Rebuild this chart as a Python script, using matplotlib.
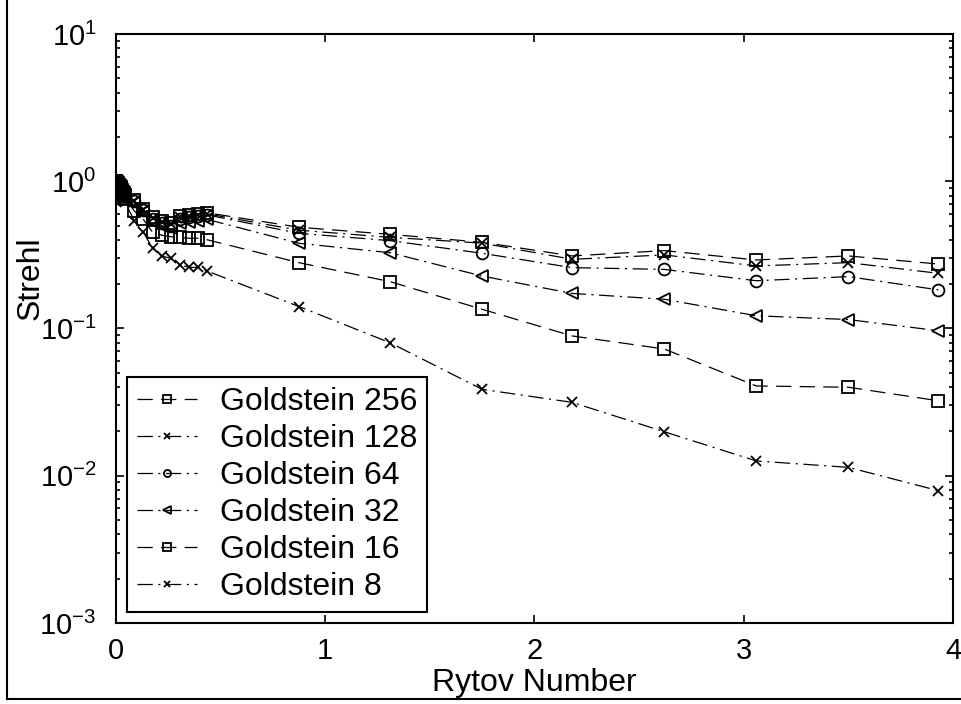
import numpy as np
import matplotlib
matplotlib.use("Agg")
import matplotlib.pyplot as plt
from matplotlib.lines import Line2D

plt.rcParams['font.family'] = ['Liberation Sans', 'DejaVu Sans']
plt.rcParams['mathtext.fontset'] = 'custom'
plt.rcParams['mathtext.rm'] = 'Liberation Sans'
plt.rcParams['mathtext.it'] = 'Liberation Sans'
plt.rcParams['lines.scale_dashes'] = False

# Rytov number samples (fine, medium, coarse steps)
rytov = [0.0, 0.0044, 0.0087, 0.0131, 0.0175, 0.0218, 0.0262, 0.0306, 0.035, 0.0393, 0.0437,
         0.087, 0.131, 0.175, 0.218, 0.262, 0.306, 0.35, 0.393, 0.437,
         0.874, 1.31, 1.75, 2.18, 2.62, 3.06, 3.50, 3.93]

g256 = [1.0, 0.99, 0.97, 0.95, 0.93, 0.91, 0.89, 0.87, 0.85, 0.83, 0.81,
        0.74, 0.65, 0.57, 0.54, 0.52, 0.58, 0.59, 0.60, 0.61,
        0.487, 0.436, 0.385, 0.311, 0.338, 0.292, 0.311, 0.274]
g128 = [1.0, 0.99, 0.97, 0.95, 0.93, 0.91, 0.89, 0.87, 0.85, 0.83, 0.80,
        0.73, 0.64, 0.56, 0.53, 0.51, 0.57, 0.58, 0.59, 0.60,
        0.465, 0.416, 0.38, 0.295, 0.316, 0.266, 0.280, 0.237]
g64 = [1.0, 0.98, 0.96, 0.94, 0.92, 0.90, 0.88, 0.86, 0.84, 0.82, 0.80,
       0.73, 0.64, 0.55, 0.52, 0.50, 0.55, 0.57, 0.58, 0.59,
       0.443, 0.395, 0.324, 0.259, 0.252, 0.211, 0.225, 0.183]
g32 = [1.0, 0.98, 0.96, 0.94, 0.92, 0.90, 0.88, 0.85, 0.83, 0.81, 0.79,
       0.71, 0.62, 0.53, 0.50, 0.48, 0.52, 0.53, 0.54, 0.55,
       0.379, 0.327, 0.227, 0.173, 0.158, 0.122, 0.115, 0.0966]
g16 = [1.0, 0.98, 0.96, 0.94, 0.91, 0.89, 0.86, 0.84, 0.81, 0.79, 0.76,
       0.63, 0.55, 0.45, 0.43, 0.42, 0.415, 0.41, 0.41, 0.40,
       0.28, 0.208, 0.135, 0.089, 0.0726, 0.0407, 0.0399, 0.0323]
g8 = [1.0, 0.98, 0.95, 0.93, 0.90, 0.87, 0.84, 0.81, 0.78, 0.75, 0.72,
      0.54, 0.45, 0.35, 0.31, 0.30, 0.27, 0.26, 0.26, 0.245,
      0.141, 0.080, 0.0386, 0.0315, 0.0199, 0.0126, 0.0114, 0.00792]

labels = ['Goldstein 256', 'Goldstein 128', 'Goldstein 64',
          'Goldstein 32', 'Goldstein 16', 'Goldstein 8']

dashed = (0, (11, 6))
dashdot = (0, (11, 4, 1.5, 4))
styles = [(dashed, 's'), (dashdot, 'x'), (dashdot, 'o'),
          (dashdot, '<'), (dashed, 's'), (dashdot, 'x')]

fig = plt.figure(figsize=(9.62, 7.04), dpi=100)
ax = fig.add_axes([0.1206, 0.1151, 0.8700, 0.8366])

for ys, lab, (ls, mk) in zip([g256, g128, g64, g32, g16, g8], labels, styles):
    ms = 6.5 if mk == 'x' else 8.5
    ax.plot(rytov, ys, color='k', linestyle=ls, linewidth=0.9, marker=mk,
            markersize=ms, markerfacecolor='none', markeredgecolor='k',
            markeredgewidth=1.3, label=lab)

ax.set_yscale('log')
ax.set_xlim(0, 4)
ax.set_ylim(1e-3, 1e1)
ax.set_xticks([0, 1, 2, 3, 4])
ax.set_xticklabels(['0', '1', '2', '3', '4'])

for s in ax.spines.values():
    s.set_linewidth(1.5)
ax.tick_params(which='both', direction='in', top=True, right=True,
               labelsize=21, width=1.2)
ax.tick_params(which='major', length=6)
ax.tick_params(which='minor', length=3)
ax.tick_params(axis='x', pad=10)
ax.tick_params(axis='y', pad=14)

ax.set_xlabel('Rytov Number', fontsize=23, labelpad=2)
ax.set_ylabel('Strehl', fontsize=23)
ax.yaxis.set_label_coords(-0.084, 0.585)

leg = ax.legend(loc='lower left', fontsize=23, frameon=True, fancybox=False,
                edgecolor='k', framealpha=1, markerscale=0.6,
                handlelength=1.9, labelspacing=0.22, borderpad=0.3,
                handletextpad=0.7, borderaxespad=0.35)
leg.get_frame().set_linewidth(1.5)

# outer frame
fig.add_artist(Line2D([7 / 962, 7 / 962], [5 / 704, 1.0], color='k', linewidth=1.5))
fig.add_artist(Line2D([7 / 962, 1.0], [5 / 704, 5 / 704], color='k', linewidth=1.5))

fig.savefig('out.png', dpi=100)
